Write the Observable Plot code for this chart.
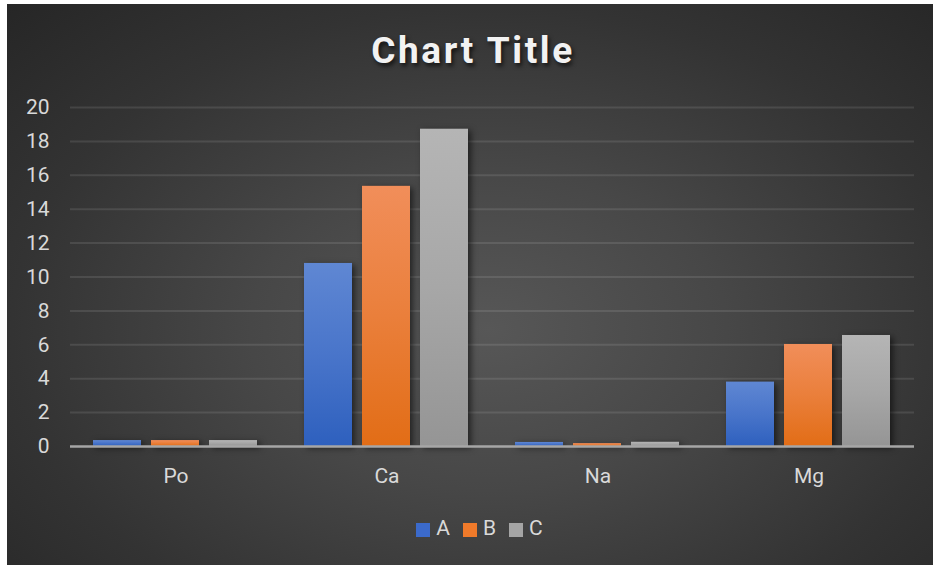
<!DOCTYPE html>
<html>
<head>
<meta charset="utf-8">
<script src="https://cdn.jsdelivr.net/npm/d3@7"></script>
<script src="https://cdn.jsdelivr.net/npm/@observablehq/plot@0.6"></script>
<style>
  html, body { margin: 0; padding: 0; background: #ffffff; }
  #wrap { position: relative; width: 933px; height: 565px; overflow: hidden; background: #ffffff; font-family: Roboto, "Noto Sans", sans-serif; }
  #panel { position: absolute; left: 7px; top: 4px; width: 926px; height: 561px;
    background: radial-gradient(ellipse farthest-corner at 52% 58%, #575757 0%, #474747 35%, #333333 70%, #262626 100%); }
  #title { position: absolute; left: 7px; width: 926px; top: 33px; text-align: center; font-size: 37px; line-height: 36px; font-weight: 700; letter-spacing: 2.6px; color: #f2f2f2; text-shadow: 2px 3px 4px rgba(0,0,0,0.65); padding-left: 6px; box-sizing: border-box; }
  #chart { position: absolute; left: 0; top: 0; }
  #chart g[aria-label="bar"] rect { filter: drop-shadow(3px 2px 3px rgba(0,0,0,0.55)); }
  #legend { position: absolute; left: 0; width: 933px; top: 518px; display: flex; justify-content: center; gap: 13px; font-size: 21px; line-height: 21px; color: #d9d9d9; padding-left: 26px; box-sizing: border-box; }
  #legend .item { display: flex; align-items: center; gap: 6px; }
  #legend .sw { width: 14px; height: 14px; display: inline-block; margin-top: 3px; }
</style>
</head>
<body>
<div id="wrap">
  <div id="panel"></div>
  <div id="title">Chart Title</div>
  <div id="chartHolder"></div>
  <div id="legend"></div>
</div>
<script>
const categories = ["Po", "Ca", "Na", "Mg"];
const series = ["A", "B", "C"];
const valuesA = [0.35, 10.8, 0.24, 3.8];
const valuesB = [0.35, 15.35, 0.17, 6.02];
const valuesC = [0.35, 18.72, 0.25, 6.55];
const yTicks = [0, 2, 4, 6, 8, 10, 12, 14, 16, 18, 20];

const seriesValues = {A: valuesA, B: valuesB, C: valuesC};
const rows = [];
categories.forEach((c, i) => series.forEach(s => rows.push({cat: c, series: s, value: seriesValues[s][i]})));

const chart = Plot.plot({
  width: 933,
  height: 500,
  marginTop: 107,
  marginBottom: 54,
  marginLeft: 69,
  marginRight: 19,
  style: {background: "transparent", color: "#d9d9d9", fontFamily: "Roboto, 'Noto Sans', sans-serif", fontSize: "21px", overflow: "visible"},
  fx: {domain: categories, padding: 0, label: null, axis: "bottom", tickSize: 0, tickPadding: 22},
  x: {domain: series, paddingInner: 0.17, paddingOuter: 0.4, axis: null},
  y: {domain: [0, 20], ticks: yTicks, tickSize: 0, tickPadding: 21, label: null},
  color: {domain: series, range: ["url(#gA)", "url(#gB)", "url(#gC)"]},
  marks: [
    Plot.ruleY(yTicks.filter(d => d > 0), {stroke: "#ffffff", strokeOpacity: 0.1, strokeWidth: 2}),
    Plot.barY(rows, {fx: "cat", x: "series", y: "value", fill: "series"}),
    Plot.ruleY([0], {stroke: "#a6a6a6", strokeWidth: 2.5})
  ]
});
chart.id = "chart";

const defs = d3.select(chart).insert("defs", ":first-child");
const grads = [["gA", "#5f87d3", "#2e60be"], ["gB", "#f18e5a", "#e26d16"], ["gC", "#b5b5b5", "#959595"]];
for (const [id, top, bottom] of grads) {
  const g = defs.append("linearGradient").attr("id", id).attr("x1", 0).attr("y1", 0).attr("x2", 0).attr("y2", 1);
  g.append("stop").attr("offset", "0%").attr("stop-color", top);
  g.append("stop").attr("offset", "50%").attr("stop-color", d3.interpolateRgb(top, bottom)(0.45));
  g.append("stop").attr("offset", "100%").attr("stop-color", bottom);
}
document.getElementById("chartHolder").appendChild(chart);

const legendColors = ["#3b6acb", "#f07a2a", "#a5a5a5"];
const legend = d3.select("#legend");
series.forEach((s, i) => {
  const it = legend.append("div").attr("class", "item");
  it.append("span").attr("class", "sw").style("background", legendColors[i]);
  it.append("span").text(s);
});
</script>
</body>
</html>
